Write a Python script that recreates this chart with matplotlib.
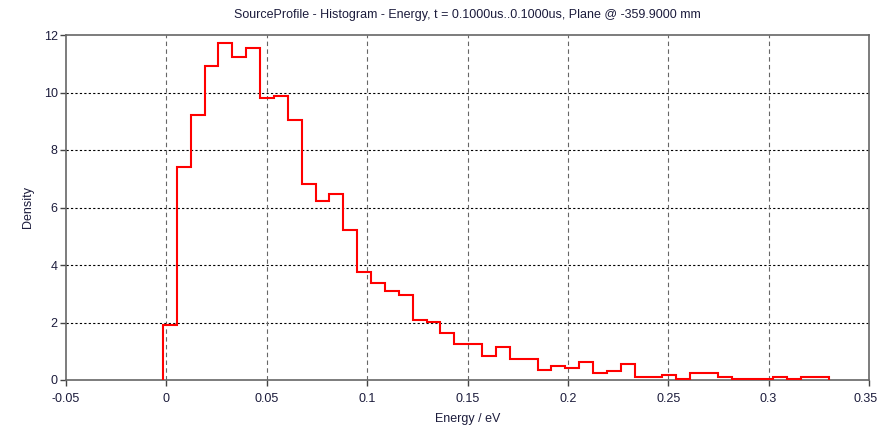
import numpy as np
import matplotlib.pyplot as plt
import matplotlib.transforms as mtransforms

plt.rcParams['font.family'] = ['Liberation Sans', 'DejaVu Sans']

# histogram of energy, 48 bins
energy_min = -0.0017
energy_max = 0.3300
density = [
    1.92, 7.40, 9.21, 10.92, 11.73, 11.22, 11.55, 9.80, 9.89, 9.03,
    6.83, 6.22, 6.48, 5.21, 3.74, 3.36, 3.10, 2.94, 2.09, 2.03,
    1.62, 1.24, 1.24, 0.84, 1.16, 0.74, 0.74, 0.35, 0.48, 0.42,
    0.63, 0.23, 0.30, 0.54, 0.10, 0.10, 0.17, 0.03, 0.23, 0.23,
    0.10, 0.02, 0.02, 0.02, 0.10, 0.03, 0.10, 0.10,
]
x_ticks = [-0.05, 0, 0.05, 0.1, 0.15, 0.2, 0.25, 0.3, 0.35]
x_labels = ["-0.05", "0", "0.05", "0.1", "0.15", "0.2", "0.25", "0.3", "0.35"]
y_ticks = [0, 2, 4, 6, 8, 10, 12]

title = "SourceProfile - Histogram - Energy, t = 0.1000us..0.1000us, Plane @ -359.9000 mm"
txt_color = "#1c1c3c"

edges = np.linspace(energy_min, energy_max, len(density) + 1)

fig = plt.figure(figsize=(8.78, 4.29), dpi=100)
ax = fig.add_axes([66 / 878, 1 - 380 / 429, (869 - 66) / 878, (380 - 35) / 429])

ax.stairs(density, edges, baseline=0, color="#ff0000", lw=1.5, zorder=3)

ax.set_xlim(-0.05, 0.35)
ax.set_ylim(0, 12)
ax.set_xticks(x_ticks)
ax.set_xticklabels(x_labels)
ax.set_yticks(y_ticks)

for y in y_ticks[1:-1]:
    ax.axhline(y, color="black", lw=0.8, ls=(0, (2, 2)), zorder=1)
for x in x_ticks[1:-1]:
    ax.axvline(x, color="#666666", lw=0.8, ls=(0, (4, 3)), zorder=1)

for s in ax.spines.values():
    s.set_color("#666666")
    s.set_linewidth(1.2)

ax.tick_params(direction="out", length=4, width=1, color="#444444",
               labelsize=9, labelcolor=txt_color)
ax.tick_params(axis="x", pad=5)
ax.tick_params(axis="y", pad=2)

# last x label sits on the figure edge, nudge it in a little
last = ax.get_xticklabels()[-1]
last.set_transform(last.get_transform() +
                   mtransforms.ScaledTranslation(-3 / 100, 0, fig.dpi_scale_trans))

ax.set_xlabel("Energy / eV", fontsize=9, color=txt_color, labelpad=6)
ax.set_ylabel("Density", fontsize=9, color=txt_color, labelpad=7)
ax.set_title(title, fontsize=9, color=txt_color, pad=12)

fig.savefig("out.png", dpi=100)
